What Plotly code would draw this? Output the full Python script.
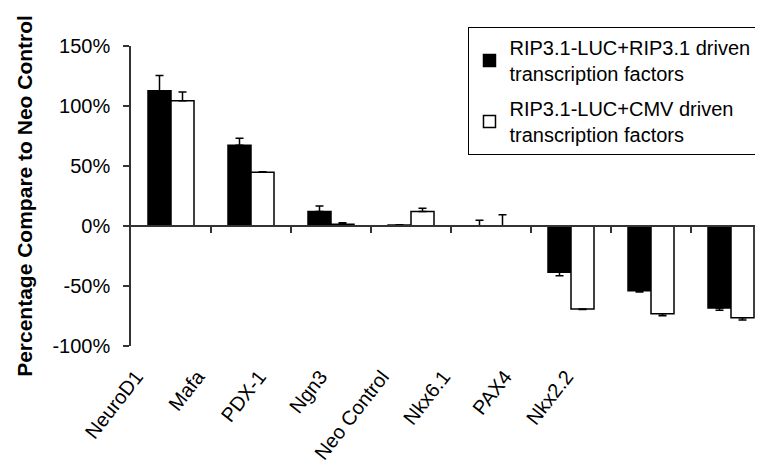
import plotly.graph_objects as go

categories = ["NeuroD1", "Mafa", "PDX-1", "Ngn3", "Neo Control", "Nkx6.1", "PAX4", "Nkx2.2"]
rip_values = [112.8, 67.2, 12.0, 0.8, 0.0, -38.6, -53.9, -68.3]
rip_err = [12.7, 6.0, 4.7, 0.3, 4.7, 2.8, 1.1, 2.0]
cmv_values = [104.4, 44.7, 1.4, 12.0, 0.0, -69.2, -73.1, -76.4]
cmv_err = [7.3, 0.6, 1.4, 2.8, 9.4, 0.3, 1.6, 1.9]
y_ticks = [-100, -50, 0, 50, 100, 150]
y_ticktext = ["-100%", "-50%", "0%", "50%", "100%", "150%"]

rip_name = "RIP3.1-LUC+RIP3.1 driven<br>transcription factors"
cmv_name = "RIP3.1-LUC+CMV driven<br>transcription factors"

FONT = "Arial, Liberation Sans, sans-serif"


def one_sided(vals, errs):
    plus = [e if v >= 0 else 0 for v, e in zip(vals, errs)]
    minus = [e if v < 0 else 0 for v, e in zip(vals, errs)]
    return plus, minus


fig = go.Figure()
for i, (name, vals, errs, fill) in enumerate([(rip_name, rip_values, rip_err, "black"),
                                              (cmv_name, cmv_values, cmv_err, "white")]):
    plus, minus = one_sided(vals, errs)
    fig.add_trace(go.Bar(
        x=categories, y=vals, name=name, legendgroup=f"g{i}",
        marker=dict(color=fill, line=dict(color="black", width=1.5)),
        error_y=dict(type="data", symmetric=False, array=plus, arrayminus=minus,
                     color="black", thickness=1.5, width=4),
        xaxis="x", yaxis="y",
    ))

# empty helper traces so the boundary-tick axis and the label axis get drawn
fig.add_trace(go.Scatter(x=[], y=[], xaxis="x2", yaxis="y", showlegend=False,
                         hoverinfo="skip"))
fig.add_trace(go.Scatter(x=[], y=[], xaxis="x3", yaxis="y", showlegend=False,
                         hoverinfo="skip"))

yr = [-100, 150]
zero_pos = (0 - yr[0]) / (yr[1] - yr[0])
n = len(categories)
boundaries = [k + 0.5 for k in range(n - 1)]

fig.update_layout(
    width=755, height=458,
    margin=dict(l=123, r=0, t=38, b=120, autoexpand=False),
    paper_bgcolor="white", plot_bgcolor="white",
    font=dict(family=FONT, size=20, color="black"),
    barmode="group", bargap=0.425, bargroupgap=0,
    showlegend=True,
    legend=dict(x=0.534, y=1.063, xanchor="left", yanchor="top",
                bordercolor="black", borderwidth=1, bgcolor="white",
                traceorder="grouped", tracegroupgap=6,
                font=dict(family=FONT, size=20, color="black")),
    xaxis=dict(type="category", range=[-0.5, 7.4], anchor="y", visible=False),
    xaxis2=dict(overlaying="x", anchor="free", position=zero_pos, type="linear",
                range=[-0.5, 7.4], tickmode="array", tickvals=boundaries,
                showticklabels=False, showline=True, linecolor="#333", linewidth=1.5,
                ticks="outside", ticklen=6, tickcolor="#333", tickwidth=1.5,
                showgrid=False, zeroline=False),
    xaxis3=dict(overlaying="x", anchor="y", side="bottom", type="linear",
                range=[-0.085, 10.2], tickmode="array",
                tickvals=list(range(n)), ticktext=categories,
                tickangle=-52, showline=False, ticks="", showgrid=False,
                zeroline=False, ticklabelstandoff=14,
                tickfont=dict(family=FONT, size=20, color="black")),
    yaxis=dict(range=yr, tickmode="array", tickvals=y_ticks, ticktext=y_ticktext,
               showline=True, linecolor="#333", linewidth=1.5, ticks="outside",
               ticklen=6, tickcolor="#333", tickwidth=1.5, showgrid=False,
               zeroline=False, ticklabelstandoff=9,
               tickfont=dict(family=FONT, size=20, color="black")),
)
fig.update_yaxes(title=dict(text="<b>Percentage Compare to Neo Control</b>",
                            font=dict(family=FONT, size=21, color="black"),
                            standoff=14))

fig.write_html("out.html")
